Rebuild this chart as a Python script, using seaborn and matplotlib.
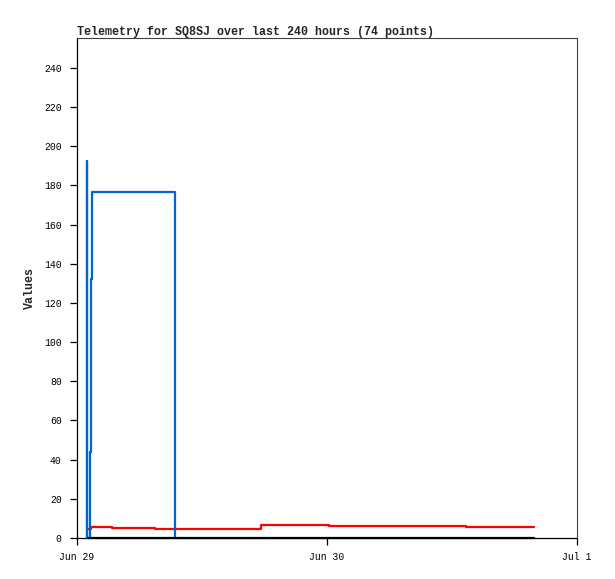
import numpy as np
import pandas as pd
import matplotlib
matplotlib.use("Agg")
import matplotlib.pyplot as plt
import matplotlib.dates as mdates
import seaborn as sns

# ---- data (hours after Jun 29 00:00, values) ----
blue_hours = [0.93, 0.95, 0.99, 1.24, 1.37, 1.42, 9.41]
blue_vals  = [0.0, 192.5, 0.0, 44.0, 132.0, 176.5, 0.0]

red_hours = [1.02, 1.36, 3.40, 7.44, 17.63, 24.19, 37.31, 43.87]
red_vals  = [4.6, 5.8, 5.1, 4.6, 6.6, 6.3, 5.8, 5.8]

black_hours = [1.02, 43.87]
black_vals  = [0.0, 0.0]

series_names = ["red", "blue", "black"]
series_colors = ["#ff0000", "#0066cc", "#000000"]

title_text = "Telemetry for SQ8SJ over last 240 hours (74 points)"
ylabel_text = "Values"
yticks = list(range(0, 241, 20))

start = pd.Timestamp("2023-06-29 00:00")
end = pd.Timestamp("2023-07-01 00:00")

frames = []
for name, hrs, vals in [("red", red_hours, red_vals),
                        ("blue", blue_hours, blue_vals),
                        ("black", black_hours, black_vals)]:
    frames.append(pd.DataFrame({
        "time": [start + pd.Timedelta(hours=h) for h in hrs],
        "value": vals,
        "series": name,
    }))
df = pd.concat(frames, ignore_index=True)

sns.set_theme(style="white")
plt.rcParams["font.family"] = ["Liberation Mono", "DejaVu Sans Mono"]

fig = plt.figure(figsize=(6.15, 5.79), dpi=100)
ax = fig.add_axes([77/615, 41/579, 500/615, 500/579])

sns.lineplot(data=df, x="time", y="value", hue="series",
             hue_order=series_names, palette=series_colors,
             drawstyle="steps-post", linewidth=1.6, legend=False,
             estimator=None, sort=False, ax=ax)
for i, ln in enumerate(ax.get_lines()):
    ln.set_clip_on(False)
    ln.set_zorder(3 + i * 0.1)

ax.set_xlim(start, end)
ax.set_ylim(0, 255.3)
ax.set_yticks(yticks)
ax.xaxis.set_major_locator(mdates.DayLocator())
ax.xaxis.set_major_formatter(mdates.DateFormatter("%b %-d"))

ax.tick_params(axis="both", which="major", direction="out", length=5,
               width=0.9, color="black", labelsize=7, labelcolor="black",
               bottom=True, left=True, top=False, right=False)
ax.tick_params(axis="y", pad=6)
ax.tick_params(axis="x", pad=5)

for side in ["left", "bottom"]:
    ax.spines[side].set_color("black")
    ax.spines[side].set_linewidth(0.9)
for side in ["top", "right"]:
    ax.spines[side].set_color("#404040")
    ax.spines[side].set_linewidth(0.8)

ax.set_xlabel("")
ax.set_ylabel(ylabel_text, fontsize=8.4, fontweight="bold", labelpad=6)
ax.set_title(title_text, loc="left", fontsize=8.35, fontweight="bold", pad=2)

fig.savefig("out.png", dpi=100, facecolor="white")
